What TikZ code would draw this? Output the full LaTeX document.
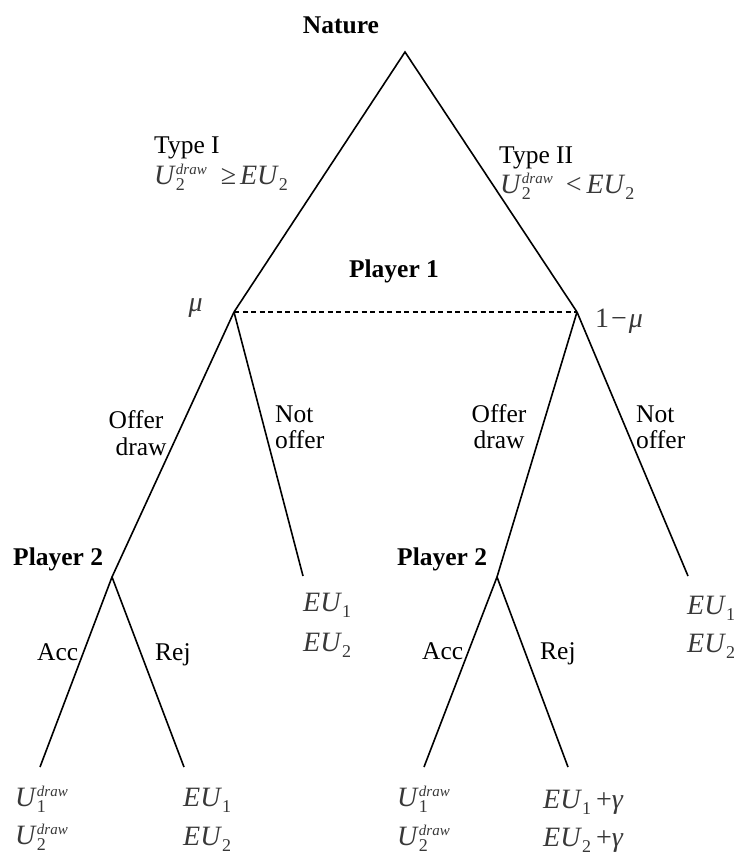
\documentclass[tikz,border=0pt]{standalone}
\usepackage{fontspec}
\setmainfont{Liberation Serif}
\newcommand\fs{\fontsize{25.5bp}{30bp}\selectfont}
\newcommand\mfs{\fontsize{28bp}{32bp}\selectfont}
\newcommand\sbsz{\fontsize{18bp}{18bp}\selectfont\upshape}
\newcommand\spsz{\fontsize{15bp}{15bp}\selectfont\itshape}
\newcommand\Ud[1]{{\itshape U}\kern1.5bp\raisebox{-6bp}{\rlap{\sbsz #1}}\raisebox{9.5bp}{\spsz draw}}
\newcommand\EU[1]{{\itshape EU}\kern1.5bp\raisebox{-6bp}{\sbsz #1}}
\newcommand\gmu{{\itshape μ}}
\newcommand\ggam{{\itshape γ}}
\definecolor{mathcol}{gray}{0.22}
\begin{document}
\begin{tikzpicture}[x=1bp,y=-1bp,
  edge/.style={line width=1.6bp, line join=miter},
  info/.style={line width=1.3bp, dash pattern=on 5bp off 3.5bp},
  lbl/.style={inner sep=0pt, font=\fs},
  bl/.style={lbl, font=\fs\bfseries},
  ml/.style={inner sep=0pt, font=\mfs, text=mathcol}]
\useasboundingbox (0,0) rectangle (739,857);
\coordinate (nat) at (405,52);
\coordinate (t1) at (234,312);
\coordinate (t2) at (577,312);
\coordinate (p2a) at (112,577);
\coordinate (nla) at (303,576);
\coordinate (p2b) at (497,577);
\coordinate (nlb) at (688,576);
\coordinate (la) at (40,767);
\coordinate (lb) at (184,767);
\coordinate (ra) at (424,767);
\coordinate (rb) at (568,767);

\draw[edge] (t1) -- (nat) -- (t2);
\draw[info] (t1) -- (t2);
\draw[edge] (t1) -- (p2a) -- (la);
\draw[edge] (p2a) -- (lb);
\draw[edge] (t1) -- (nla);
\draw[edge] (t2) -- (p2b) -- (ra);
\draw[edge] (p2b) -- (rb);
\draw[edge] (t2) -- (nlb);

\node[bl, anchor=base] (lnat) at (341,33) {Nature};
\node[lbl, anchor=base west] (ty1) at (154,153) {Type I};
\node[ml, anchor=base west] (c1) at (154,184) {\Ud{2}\kern14bp≥\kern4bp\EU{2}};
\node[lbl, anchor=base west] (ty2) at (499,163) {Type II};
\node[ml, anchor=base west] (c2) at (500,193) {\Ud{2}\kern13bp<\kern5bp\EU{2}};
\node[bl, anchor=base] (pl1) at (394,277) {Player 1};
\node[ml, anchor=base east] (mu) at (203,311) {\gmu};
\node[ml, anchor=base west] (omu) at (595,327) {1\kern2bp−\kern2bp\gmu};

\node[lbl, anchor=base] (of1) at (136,428) {Offer};
\node[lbl, anchor=base] (dr1) at (141,455) {draw};
\node[lbl, anchor=base west] (no1) at (275,422) {Not};
\node[lbl, anchor=base west] (nf1) at (275,448) {offer};
\node[lbl, anchor=base] (of2) at (499,422) {Offer};
\node[lbl, anchor=base] (dr2) at (499,448) {draw};
\node[lbl, anchor=base west] (no2) at (636,422) {Not};
\node[lbl, anchor=base west] (nf2) at (636,448) {offer};

\node[bl, anchor=base west] (pl2a) at (13,565) {Player 2};
\node[bl, anchor=base west] (pl2b) at (397,565) {Player 2};

\node[lbl, anchor=base west] (acc1) at (37,660) {Acc};
\node[lbl, anchor=base west] (rej1) at (155,660) {Rej};
\node[lbl, anchor=base west] (acc2) at (422,659) {Acc};
\node[lbl, anchor=base west] (rej2) at (540,659) {Rej};

\node[ml, anchor=base west] (m1a) at (303,611) {\EU{1}};
\node[ml, anchor=base west] (m1b) at (303,651) {\EU{2}};
\node[ml, anchor=base west] (m2a) at (687,614) {\EU{1}};
\node[ml, anchor=base west] (m2b) at (687,652) {\EU{2}};

\node[ml, anchor=base west] (b1a) at (15,806) {\Ud{1}};
\node[ml, anchor=base west] (b1b) at (15,844) {\Ud{2}};
\node[ml, anchor=base west] (b2a) at (183,806) {\EU{1}};
\node[ml, anchor=base west] (b2b) at (183,845) {\EU{2}};
\node[ml, anchor=base west] (b3a) at (397,806) {\Ud{1}};
\node[ml, anchor=base west] (b3b) at (397,845) {\Ud{2}};
\node[ml, anchor=base west] (b4a) at (543,808) {\EU{1}\kern5bp+\ggam};
\node[ml, anchor=base west] (b4b) at (543,846) {\EU{2}\kern5bp+\ggam};
\end{tikzpicture}
\end{document}
